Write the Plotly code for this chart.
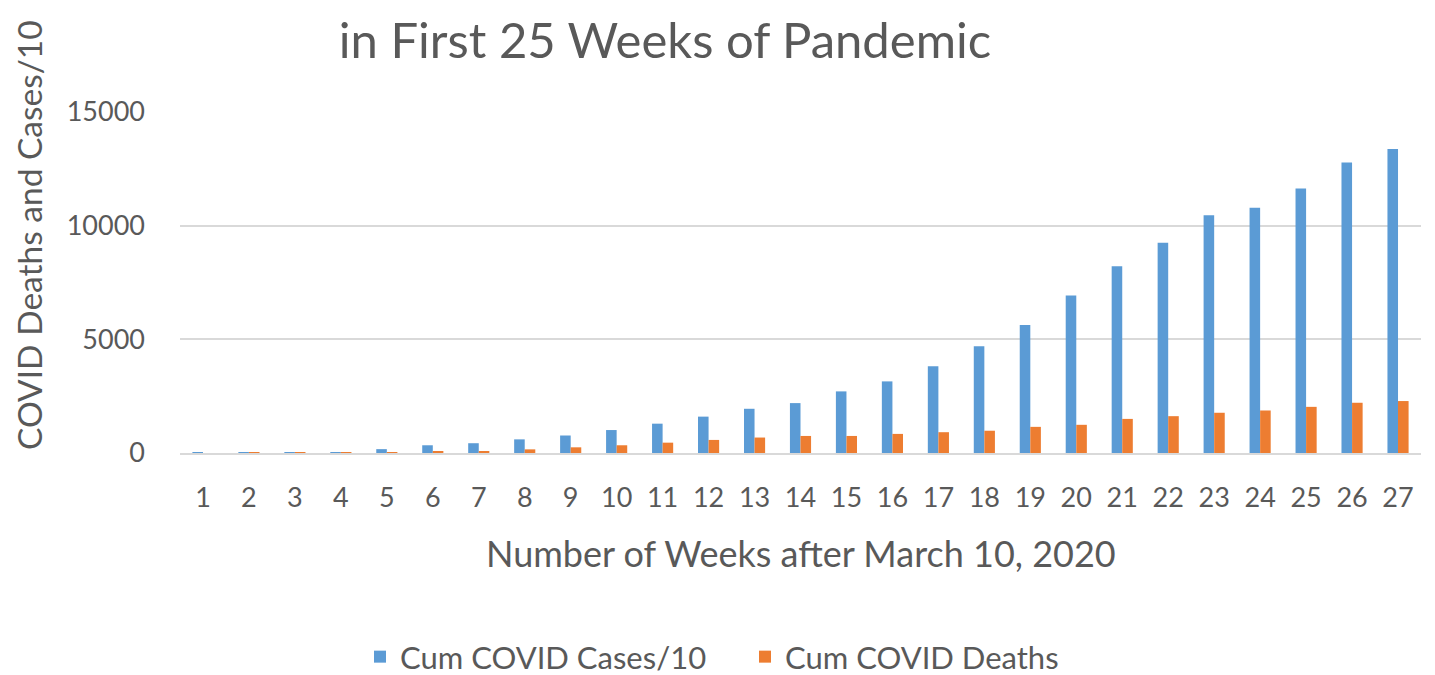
import plotly.graph_objects as go

weeks = [str(i) for i in range(1, 28)]
cases_div10 = [5, 15, 25, 35, 170, 340, 430, 600, 770, 1010, 1290, 1600, 1945, 2195, 2710,
               3150, 3815, 4700, 5630, 6925, 8220, 9250, 10460, 10785, 11640, 12775, 13375]
deaths = [0, 2, 4, 6, 20, 70, 75, 160, 250, 340, 455, 575, 680, 750, 750,
          840, 915, 980, 1150, 1240, 1500, 1620, 1770, 1870, 2030, 2210, 2285]
y_ticks = [0, 5000, 10000, 15000]
y_tick_text = ["0", "5000", "10000", "15000"]

FONT = "Lato"
TXT = "#595959"

OFF = 8  # page body margin offset
L, R, T, B = 180 - OFF, 1421 - OFF, 112 - OFF, 453 - OFF

fig = go.Figure()
fig.add_trace(go.Bar(x=weeks, y=cases_div10, name="Cum COVID Cases/10",
                     marker=dict(color="#5B9BD5", line=dict(width=0)), legend="legend"))
fig.add_trace(go.Bar(x=weeks, y=deaths, name="Cum COVID Deaths",
                     marker=dict(color="#ED7D31", line=dict(width=0)), legend="legend2"))

leg_common = dict(orientation="h", xref="container", xanchor="left",
                  yref="container", y=1-649/675, yanchor="middle",
                  font=dict(size=31, family=FONT, color=TXT), itemwidth=30,
                  bgcolor="rgba(0,0,0,0)")

fig.update_layout(
    width=1435, height=675,
    paper_bgcolor="white", plot_bgcolor="white",
    margin=dict(l=L, r=1435-R, t=T, b=675-B, autoexpand=False),
    barmode="group", bargap=0.54, bargroupgap=0,
    font=dict(family=FONT, color=TXT),
    title=dict(text="in First 25 Weeks of Pandemic", x=657/1435, xanchor="center",
               yref="container", y=1-33/675, yanchor="middle",
               font=dict(size=49, family=FONT, color=TXT)),
    legend=dict(x=(360-OFF)/1435, **leg_common),
    legend2=dict(x=(745-OFF)/1435, **leg_common),
    showlegend=True,
)
fig.update_xaxes(type="category", showgrid=False, showline=True, linecolor="#D9D9D9",
                 linewidth=2, ticks="", tickfont=dict(size=27, color=TXT),
                 ticklabelstandoff=20, automargin=False)
fig.update_yaxes(range=[0, 15000], tickvals=y_ticks, ticktext=y_tick_text,
                 showgrid=True, gridcolor="#D9D9D9",
                 gridwidth=2, zeroline=False, showline=False, ticks="",
                 tickfont=dict(size=27, color=TXT), ticklabelstandoff=34, automargin=False)

fig.add_annotation(text="Number of Weeks after March 10, 2020", xref="paper", yref="paper",
                   x=(793-L)/(R-L), y=-(545-B)/(B-T),
                   xanchor="center", yanchor="middle", showarrow=False,
                   font=dict(size=36, family=FONT, color=TXT))
fig.add_annotation(text="COVID Deaths and Cases/10", xref="paper", yref="paper",
                   x=-(L-21)/(R-L), y=(B-227)/(B-T),
                   xanchor="center", yanchor="middle", textangle=-90, showarrow=False,
                   font=dict(size=33.5, family=FONT, color=TXT))

fig.write_html("out.html")
